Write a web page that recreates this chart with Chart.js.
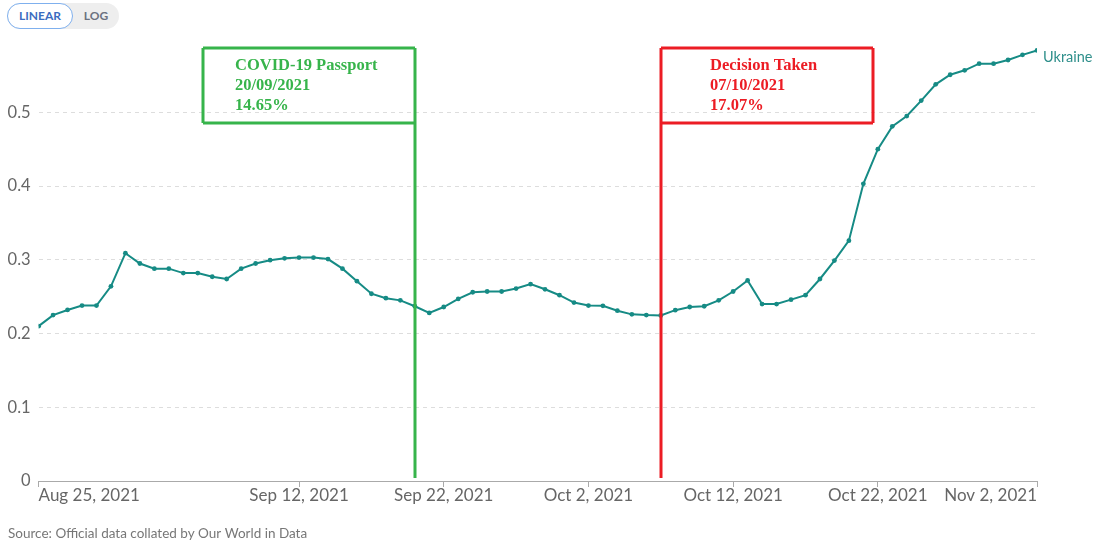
<!DOCTYPE html>
<html>
<head>
<meta charset="utf-8">
<script src="https://cdn.jsdelivr.net/npm/chart.js@4.4.0/dist/chart.umd.min.js"></script>
<style>
  html, body { margin: 0; padding: 0; background: #fff; }
  #wrap { position: relative; width: 1096px; height: 542px; overflow: hidden; }
  #c { position: absolute; left: 0; top: 0; }
  #toggle { position: absolute; left: 7px; top: 3px; height: 26px; display: flex; font-family: Lato, sans-serif; font-weight: 700; font-size: 12px; border-radius: 13px; background: #eeeeee; }
  #toggle .on { box-sizing: border-box; width: 66px; height: 26px; line-height: 24px; text-align: center; color: #3b6cc0; background: #fff; border: 1px solid #7fb0ee; border-radius: 13px; }
  #toggle .off { width: 46px; height: 26px; line-height: 26px; text-align: center; color: #6b7280; }
</style>
</head>
<body>
<div id="wrap">
  <canvas id="c" width="1096" height="542"></canvas>
  <div id="toggle"><div class="on">LINEAR</div><div class="off">LOG</div></div>
</div>
<script>
// ---- data ----
const startDate = '2021-08-25';            // day 0
const seriesName = 'Ukraine';
const values = [0.210,0.225,0.232,0.238,0.238,0.264,0.309,0.295,0.288,0.288,
                0.282,0.282,0.277,0.274,0.288,0.295,0.2995,0.302,0.303,0.303,
                0.301,0.288,0.271,0.254,0.248,0.245,0.237,0.228,0.236,0.247,
                0.256,0.257,0.257,0.261,0.267,0.260,0.252,0.242,0.238,0.2376,
                0.231,0.226,0.225,0.2245,0.2317,0.236,0.237,0.245,0.257,0.272,
                0.240,0.240,0.246,0.252,0.274,0.299,0.326,0.403,0.450,0.481,
                0.495,0.516,0.538,0.551,0.557,0.566,0.566,0.571,0.578,0.584];
const tickDays = [0, 18, 28, 38, 48, 58, 69];
const tickLabels = ['Aug 25, 2021','Sep 12, 2021','Sep 22, 2021','Oct 2, 2021','Oct 12, 2021','Oct 22, 2021','Nov 2, 2021'];
const yTicks = [0, 0.1, 0.2, 0.3, 0.4, 0.5];
const eventDays = [26, 43];
const eventLines = [['COVID-19 Passport','20/09/2021','14.65%'], ['Decision Taken','07/10/2021','17.07%']];
const eventColors = ['#37b44b', '#ec1c24'];
const sourceText = 'Source: Official data collated by Our World in Data';

const TEAL = '#168b85';
const points = values.map((v, i) => ({ x: i, y: v }));

const drawPlugin = {
  id: 'extras',
  afterDatasetsDraw(chart) {
    const ctx = chart.ctx, xs = chart.scales.x, ca = chart.chartArea;
    eventDays.forEach((d, k) => {
      const px = Math.round(xs.getPixelForValue(d));
      const col = eventColors[k];
      const top = ca.top + 2, bottom = ca.bottom - 3, boxBottom = ca.top + 77;
      const left = k === 0 ? px - 212 : px;
      const right = k === 0 ? px : px + 212;
      ctx.save();
      ctx.strokeStyle = col;
      ctx.lineWidth = 3;
      ctx.beginPath();
      ctx.moveTo(left, top); ctx.lineTo(right, top);
      ctx.moveTo(left, boxBottom); ctx.lineTo(right, boxBottom);
      ctx.moveTo(k === 0 ? left : right, top); ctx.lineTo(k === 0 ? left : right, boxBottom);
      ctx.moveTo(px, top); ctx.lineTo(px, bottom);
      ctx.stroke();
      ctx.fillStyle = col;
      ctx.font = 'bold 16.5px "Liberation Serif", "DejaVu Serif", serif';
      ctx.textBaseline = 'middle';
      ctx.textAlign = 'left';
      const tx = k === 0 ? left + 32 : left + 49;
      eventLines[k].forEach((t, j) => ctx.fillText(t, tx, ca.top + 20 + j * 20));
      ctx.restore();
    });
  },
  afterDraw(chart) {
    const ctx = chart.ctx, xs = chart.scales.x, ys = chart.scales.y, ca = chart.chartArea;
    ctx.save();
    ctx.fillStyle = '#666';
    ctx.font = '17px Lato, sans-serif';
    ctx.textBaseline = 'top';
    tickDays.forEach((d, i) => {
      const px = xs.getPixelForValue(d);
      ctx.textAlign = i === 0 ? 'left' : (i === tickDays.length - 1 ? 'right' : 'center');
      ctx.fillText(tickLabels[i], px, ca.bottom + 6);
    });
    ctx.fillStyle = '#2f8f8b';
    ctx.font = '14.5px Lato, sans-serif';
    ctx.textAlign = 'left';
    ctx.textBaseline = 'middle';
    const last = values.length - 1;
    ctx.fillText(seriesName, xs.getPixelForValue(last) + 6, ys.getPixelForValue(values[last]) + 7);
    ctx.fillStyle = '#777';
    ctx.font = '13.5px Lato, sans-serif';
    ctx.textBaseline = 'middle';
    ctx.fillText(sourceText, 8, 534);
    ctx.restore();
  }
};

new Chart(document.getElementById('c'), {
  type: 'line',
  data: {
    datasets: [{
      label: seriesName,
      data: points,
      borderColor: TEAL,
      backgroundColor: TEAL,
      borderWidth: 2,
      pointRadius: 2.4,
      pointBorderWidth: 0,
      pointBackgroundColor: TEAL,
      tension: 0
    }]
  },
  options: {
    responsive: false,
    animation: false,
    devicePixelRatio: 1,
    layout: { padding: { top: 46, right: 59, left: 0, bottom: 0 } },
    plugins: { legend: { display: false }, tooltip: { enabled: false } },
    scales: {
      x: {
        type: 'linear',
        min: 0,
        max: values.length - 1,
        afterBuildTicks(axis) { axis.ticks = tickDays.map(v => ({ value: v })); },
        afterFit(axis) { axis.height = 61; },
        ticks: { callback: () => '', font: { size: 1 } },
        grid: { drawOnChartArea: false, drawTicks: true, tickLength: 6, color: '#aaa' },
        border: { display: true, color: '#aaa', width: 1 }
      },
      y: {
        min: 0,
        max: 0.59,
        afterBuildTicks(axis) { axis.ticks = yTicks.map(v => ({ value: v })); },
        afterFit(axis) { axis.width = 38.6; },
        ticks: { padding: 8, color: '#666', font: { family: 'Lato', size: 16.5 }, callback: v => String(v) },
        grid: { drawTicks: false, color: ctx => ctx.tick && ctx.tick.value === 0 ? 'rgba(0,0,0,0)' : '#dddddd', lineWidth: 1 },
        border: { display: false, dash: [4, 4] }
      }
    }
  },
  plugins: [drawPlugin]
});
</script>
</body>
</html>
